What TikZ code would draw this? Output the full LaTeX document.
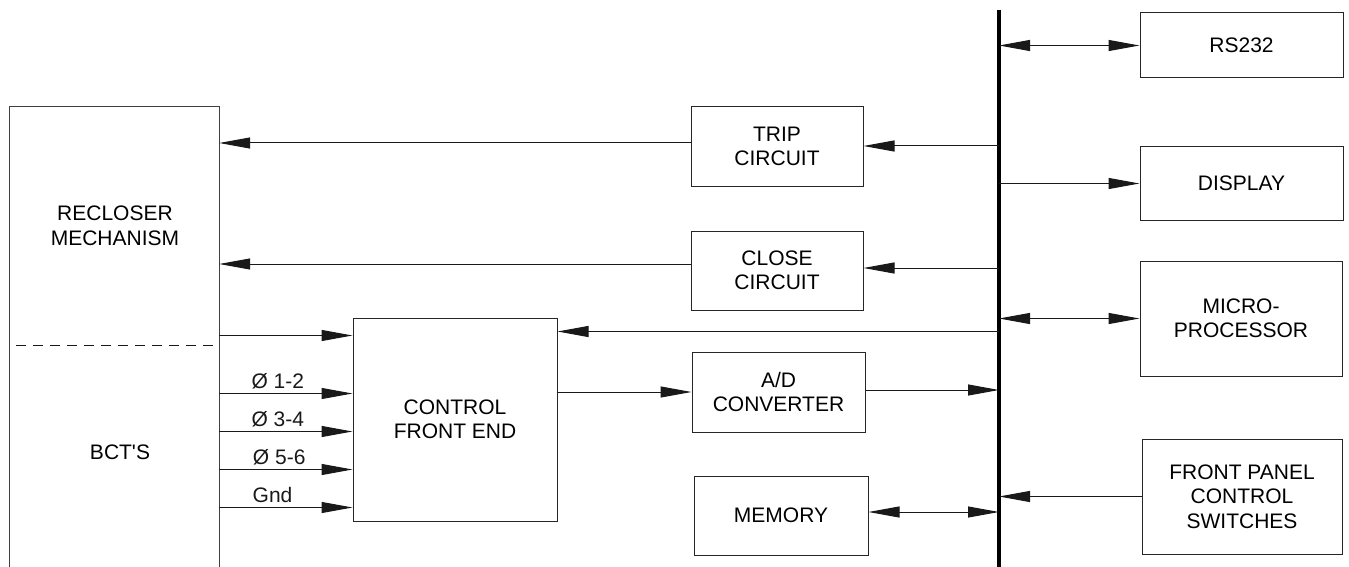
\documentclass[tikz,border=0pt]{standalone}
\usepackage{fontspec}
\setmainfont{Liberation Sans}
\usetikzlibrary{arrows.meta,calc}
\begin{document}
\begin{tikzpicture}[x=1pt,y=-1pt,
  box/.style={draw=black!85,line width=1pt,inner sep=0pt,align=center,
    font=\fontsize{21}{24.5}\selectfont},
  lbl/.style={inner sep=0pt,align=center,font=\fontsize{21}{24.5}\selectfont},
  arr/.style={line width=1pt,black!90,-{Triangle[length=31pt,width=11pt]}},
  barr/.style={line width=1pt,black!90,{Triangle[length=31pt,width=11pt]}-{Triangle[length=31pt,width=11pt]}},
  ln/.style={line width=1pt,black!90}]
\useasboundingbox (0,0) rectangle (1349,567);
% bus
\coordinate (bt) at (999,10);
\coordinate (bb) at (999,567);
\draw[line width=3.5pt] (bt) -- (bb);
% right boxes
\node[box,minimum width=203pt,minimum height=65pt] (rs) at (1241.5,45.5) {RS232};
\node[box,minimum width=203pt,minimum height=73pt] (disp) at (1241.5,183.5) {DISPLAY};
\node[box,minimum width=202pt,minimum height=115pt] (mp) at (1241,318.5) {MICRO-\\PROCESSOR};
\node[box,minimum width=200pt,minimum height=115pt] (fp) at (1242,496.5) {FRONT PANEL\\CONTROL\\SWITCHES};
% middle boxes
\node[box,minimum width=172pt,minimum height=79pt] (trip) at (777,146.5) {TRIP\\CIRCUIT};
\node[box,minimum width=172pt,minimum height=79pt] (close) at (777,270.5) {CLOSE\\CIRCUIT};
\node[box,minimum width=173pt,minimum height=80pt] (ad) at (778.5,392) {A/D\\CONVERTER};
\node[box,minimum width=174pt,minimum height=79pt] (mem) at (781,515.5) {MEMORY};
\node[box,minimum width=204pt,minimum height=203pt] (cfe) at (455,419.5) {CONTROL\\FRONT END};
% recloser
\node[minimum width=209pt,minimum height=460pt,inner sep=0pt] (rec) at (114.5,337) {};
\draw[ln,draw=black!75] (rec.south west) -- (rec.north west) -- (rec.north east) -- (rec.south east);
\node[lbl] (rectxt) at (115,226) {RECLOSER\\MECHANISM};
\node[lbl] (bct) at (120,452) {BCT\textquotesingle S};
\coordinate (dl) at (16,345);
\draw[ln,dash pattern=on 10pt off 7pt] (dl) -- (dl -| rec.east);
% bus connections right
\draw[barr] (rs.west -| bt) -- (rs.west);
\draw[arr] (disp.west -| bt) -- (disp.west);
\draw[barr] (mp.west -| bt) -- (mp.west);
\draw[arr] (fp.west) -- (fp.west -| bt);
% bus connections left
\draw[arr] ([yshift=0.5pt]trip.east -| bt) -- ([yshift=0.5pt]trip.east);
\draw[arr] ([yshift=2.5pt]close.east -| bt) -- ([yshift=2.5pt]close.east);
\draw[arr] ([yshift=-14pt]cfe.north east -| bt) -- ([yshift=-14pt]cfe.north east);
\draw[arr] ([yshift=2pt]ad.east) -- ([yshift=2pt]ad.east -| bt);
\draw[barr] ([yshift=3.5pt]mem.east) -- ([yshift=3.5pt]mem.east -| bt);
\draw[arr] ([yshift=3.5pt]trip.west) -- ([yshift=3.5pt]trip.west -| rec.east);
\draw[arr] ([yshift=6.5pt]close.west) -- ([yshift=6.5pt]close.west -| rec.east);
\draw[arr] (ad.west -| cfe.east) -- (ad.west);
% recloser to cfe
\draw[arr] ([yshift=-18pt]cfe.north west -| rec.east) -- ([yshift=-18pt]cfe.north west);
\draw[arr] ([yshift=-76pt]cfe.north west -| rec.east) -- node[lbl,above=4pt,pos=0.44] (l1) {Ø 1-2} ([yshift=-76pt]cfe.north west);
\draw[arr] ([yshift=-114pt]cfe.north west -| rec.east) -- node[lbl,above=4pt,pos=0.44] (l2) {Ø 3-4} ([yshift=-114pt]cfe.north west);
\draw[arr] ([yshift=-152pt]cfe.north west -| rec.east) -- node[lbl,above=4pt,pos=0.45] (l3) {Ø 5-6} ([yshift=-152pt]cfe.north west);
\draw[arr] ([yshift=-190pt]cfe.north west -| rec.east) -- node[lbl,above=4pt,pos=0.40] (l4) {Gnd} ([yshift=-190pt]cfe.north west);
\end{tikzpicture}
\end{document}
